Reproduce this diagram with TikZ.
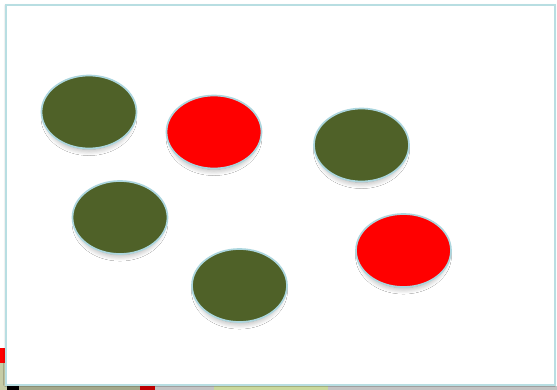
\documentclass[tikz,border=0pt]{standalone}
\usepackage{xcolor}
\usepackage{tikz}
\usetikzlibrary{shapes.geometric, shadows.blur}

\definecolor{discgreen}{HTML}{4F6128}
\definecolor{discred}{HTML}{FF0000}
\definecolor{rimblue}{HTML}{ACD6DE}
\definecolor{framerim}{HTML}{B8DEE2}
\definecolor{stripolive}{HTML}{A3A88A}
\definecolor{stripleft}{HTML}{C6CCA6}
\definecolor{stripred}{HTML}{C00000}
\definecolor{stripgray}{HTML}{C3C3C3}
\definecolor{strippale}{HTML}{C9D89C}

\begin{document}
\begin{tikzpicture}[x=1pt, y=-1pt,
    disc/.style={ellipse, draw=rimblue, line width=1.7pt, minimum width=95pt, minimum height=73pt, inner sep=0pt,
        blur shadow={shadow xshift=0pt, shadow yshift=-6pt, shadow scale=0.88, shadow blur radius=7pt, shadow blur steps=12, shadow opacity=40}},
    frame/.style={draw=framerim, line width=2pt, fill=white},
    strip/.style={draw=none}
]
\useasboundingbox (0,0) rectangle (557,390);

% Window strips
\fill[strip, discred] (0,348) rectangle (5,363);
\fill[strip, stripleft] (0,363) rectangle (5,390);
\fill[strip, stripleft] (0,385) rectangle (7,390);
\fill[strip, black] (7,386) rectangle (19,390);
\fill[strip, stripolive] (19,386) rectangle (140,390);
\fill[strip, stripred] (140,386) rectangle (155,390);
\fill[strip, stripgray] (155,386) rectangle (214,390);
\fill[strip, strippale] (214,386) rectangle (328,390);
\fill[strip, stripgray] (328,386) rectangle (557,390);

% Slide
\draw[frame, blur shadow={shadow xshift=0pt, shadow yshift=0pt, shadow blur radius=2pt, shadow opacity=25}] (5.5,5.5) rectangle (554.5,384.5);

% Discs
\node[disc, fill=discgreen] (green1) at (89,112) {};
\node[disc, fill=discred] (red1) at (214,132) {};
\node[disc, fill=discgreen] (green2) at (361.5,145) {};
\node[disc, fill=discgreen] (green3) at (120,217.5) {};
\node[disc, fill=discgreen] (green4) at (239.5,285.5) {};
\node[disc, fill=discred] (red2) at (403.5,250.5) {};

\end{tikzpicture}
\end{document}
